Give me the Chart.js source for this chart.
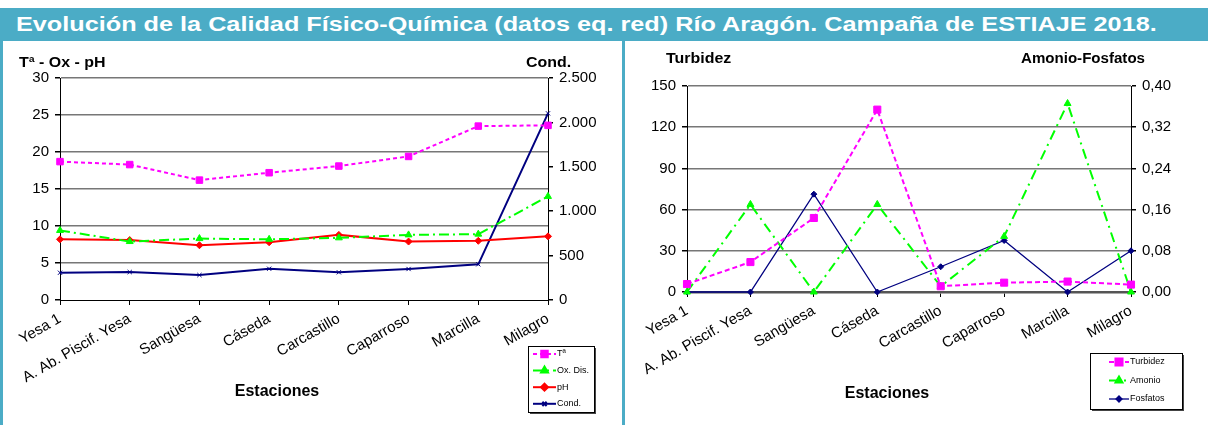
<!DOCTYPE html>
<html>
<head>
<meta charset="utf-8">
<script src="https://cdn.jsdelivr.net/npm/chart.js@4/dist/chart.umd.min.js"></script>
<style>
  body { margin: 0; width: 1208px; height: 425px; position: relative; overflow: hidden; background: #fff;
         font-family: Arial, "Liberation Sans", sans-serif; }
  #banner { position: absolute; left: 0; top: 8px; width: 1208px; height: 33px; background: #4bacc6; }
  #banner span { position: absolute; left: 16px; top: 0; color: #fff; font-weight: bold; font-size: 20px; line-height: 33px;
                 white-space: nowrap; transform: scaleX(1.262); transform-origin: 0 50%; }
  .barra { position: absolute; top: 41px; width: 3px; height: 384px; background: #4bacc6; }
  canvas { position: absolute; top: 41px; }
  .lbl { position: absolute; font-weight: bold; font-size: 14.5px; line-height: 15px; white-space: nowrap; color: #000;
         transform: scaleX(1.1); transform-origin: 0 50%; }
  .est { position: absolute; font-weight: bold; font-size: 16px; line-height: 16px; white-space: nowrap; transform: translateX(-50%); }
</style>
</head>
<body>
<div id="banner"><span>Evolución de la Calidad Físico-Química (datos eq. red) Río Aragón. Campaña de ESTIAJE 2018.</span></div>
<div class="barra" style="left:0"></div>
<div class="barra" style="left:622px"></div>

<canvas id="izq" width="618" height="384" style="left:4px"></canvas>
<canvas id="der" width="582" height="384" style="left:626px"></canvas>

<div class="lbl" style="left:19px;top:55px">Tª - Ox - pH</div>
<div class="lbl" style="left:526px;top:55px">Cond.</div>
<div class="lbl" style="left:666px;top:51px">Turbidez</div>
<div class="lbl" style="left:1021px;top:51px;transform:scaleX(1.04)">Amonio-Fosfatos</div>
<div class="est" style="left:277px;top:383px">Estaciones</div>
<div class="est" style="left:887px;top:385px">Estaciones</div>

<script>
// estaciones del río
const estaciones = ['Yesa 1', 'A. Ab. Piscif. Yesa', 'Sangüesa', 'Cáseda', 'Carcastillo', 'Caparroso', 'Marcilla', 'Milagro'];

// grafico izquierdo
const temperatura = [18.7, 18.3, 16.2, 17.2, 18.1, 19.4, 23.5, 23.6];
const oxigeno = [9.4, 7.9, 8.3, 8.2, 8.4, 8.8, 8.9, 14.0];
const ph = [8.2, 8.1, 7.4, 7.8, 8.8, 7.9, 8.0, 8.6];
const conductividad = [307, 315, 281, 352, 312, 349, 402, 2102];

// grafico derecho
const turbidez = [5.8, 21.8, 53.9, 132.8, 4.2, 6.8, 7.6, 5.4];
const amonio = [0, 0.17, 0, 0.17, 0.011, 0.108, 0.366, 0];
const fosfatos = [0, 0, 0.19, 0, 0.049, 0.10, 0, 0.08];

const miles = v => String(v).replace(/\B(?=(\d{3})+(?!\d))/g, '.'); // 2500 -> 2.500
const coma = v => Number(v).toFixed(2).replace('.', ','); // 0.4 -> 0,40

Chart.defaults.font.family = 'Arial, "Liberation Sans", sans-serif';
Chart.defaults.color = '#000';

// leyenda en caja, estilo excel
const leyendaCaja = {
  id: 'leyendaCaja',
  afterDraw(chart, args, o) {
    const ctx = chart.ctx;
    ctx.save();
    ctx.fillStyle = '#444';
    ctx.fillRect(o.x + 2, o.y + 2, o.w, o.h);
    ctx.fillStyle = '#fff';
    ctx.fillRect(o.x, o.y, o.w, o.h);
    ctx.strokeStyle = '#000';
    ctx.lineWidth = 1;
    ctx.strokeRect(o.x + 0.5, o.y + 0.5, o.w, o.h);
    ctx.font = '9px Arial, "Liberation Sans", sans-serif';
    ctx.textBaseline = 'middle';
    chart.data.datasets.forEach((ds, i) => {
      const y = o.y + o.primera + i * o.paso;
      ctx.strokeStyle = ds.borderColor;
      ctx.lineWidth = ds.borderWidth;
      ctx.setLineDash(ds.borderDash || []);
      ctx.beginPath();
      ctx.moveTo(o.x1, y);
      ctx.lineTo(o.x2, y);
      ctx.stroke();
      ctx.setLineDash([]);
      ctx.fillStyle = ds.pointBackgroundColor;
      ctx.strokeStyle = ds.borderColor;
      Chart.helpers.drawPoint(ctx, { pointStyle: ds.pointStyle, radius: ds.pointRadius, rotation: 0, borderWidth: 1 }, (o.x1 + o.x2) / 2, y);
      ctx.fillStyle = '#000';
      ctx.fillText(ds.label, o.x2 + 1, y);
    });
    ctx.restore();
  }
};

function ejeX(alto) {
  return {
    type: 'category',
    offset: false,
    grid: { drawOnChartArea: false, drawTicks: true, tickLength: 5, tickColor: '#000' },
    border: { color: '#000', width: 1 },
    ticks: { autoSkip: false, minRotation: 30, maxRotation: 30, padding: 5, font: { size: 15 } },
    afterFit: s => { s.height = alto; }
  };
}

function ejeY(pos, min, max, paso, ancho, formato, rejilla) {
  return {
    position: pos, min: min, max: max,
    grid: {
      drawOnChartArea: rejilla,
      color: c => (c.tick && c.tick.value === 0) ? 'rgba(0,0,0,0)' : '#777',
      lineWidth: 1.5,
      tickLength: 5,
      tickColor: '#000'
    },
    border: { color: '#000', width: 1 },
    ticks: { stepSize: paso, padding: 6, font: { size: 15 }, callback: formato },
    afterFit: s => { s.width = ancho; }
  };
}

function serie(label, data, color, eje, dash, estilo, radio, grosor) {
  return {
    label: label, data: data, yAxisID: eje,
    borderColor: color, backgroundColor: color, pointBackgroundColor: color, pointBorderColor: color,
    borderWidth: grosor, borderDash: dash, pointStyle: estilo, pointRadius: radio, pointBorderWidth: 1,
    tension: 0, clip: false
  };
}

new Chart(document.getElementById('izq'), {
  type: 'line',
  data: {
    labels: estaciones,
    datasets: [
      serie('Tª', temperatura, '#ff00ff', 'y', [4, 3], 'rect', 4.6, 2),
      serie('Ox. Dis.', oxigeno, '#00ff00', 'y', [10, 4, 2, 4], 'triangle', 4, 2),
      serie('pH', ph, '#ff0000', 'y', [], 'rectRot', 3.5, 2),
      serie('Cond.', conductividad, '#000080', 'y1', [], 'crossRot', 3, 2)
    ]
  },
  options: {
    responsive: false, animation: false, devicePixelRatio: 1,
    layout: { padding: { left: 0, right: 0, top: 37, bottom: 0 } },
    plugins: {
      legend: { display: false },
      tooltip: { enabled: false },
      leyendaCaja: { x: 524, y: 305, w: 66, h: 66, primera: 8, paso: 16.6, x1: 529, x2: 552 }
    },
    scales: {
      x: ejeX(125),
      y: ejeY('left', 0, 30, 5, 56, v => v, true),
      y1: ejeY('right', 0, 2500, 500, 74, v => miles(v), false)
    }
  },
  plugins: [leyendaCaja]
});

new Chart(document.getElementById('der'), {
  type: 'line',
  data: {
    labels: estaciones,
    datasets: [
      serie('Turbidez', turbidez, '#ff00ff', 'y', [5, 3], 'rect', 5, 2),
      serie('Amonio', amonio, '#00ff00', 'y1', [10, 5, 2, 5], 'triangle', 4, 2),
      serie('Fosfatos', fosfatos, '#000080', 'y1', [], 'rectRot', 3, 1.3)
    ]
  },
  options: {
    responsive: false, animation: false, devicePixelRatio: 1,
    layout: { padding: { left: 0, right: 0, top: 45, bottom: 0 } },
    plugins: {
      legend: { display: false },
      tooltip: { enabled: false },
      leyendaCaja: { x: 464, y: 312, w: 92, h: 56, primera: 9, paso: 18.5, x1: 483, x2: 503 }
    },
    scales: {
      x: Object.assign(ejeX(133), { border: { color: '#555', width: 2.5 } }),
      y: ejeY('left', 0, 150, 30, 61, v => v, true),
      y1: ejeY('right', 0, 0.4, 0.08, 77, v => coma(v), false)
    }
  },
  plugins: [leyendaCaja]
});
</script>
</body>
</html>
